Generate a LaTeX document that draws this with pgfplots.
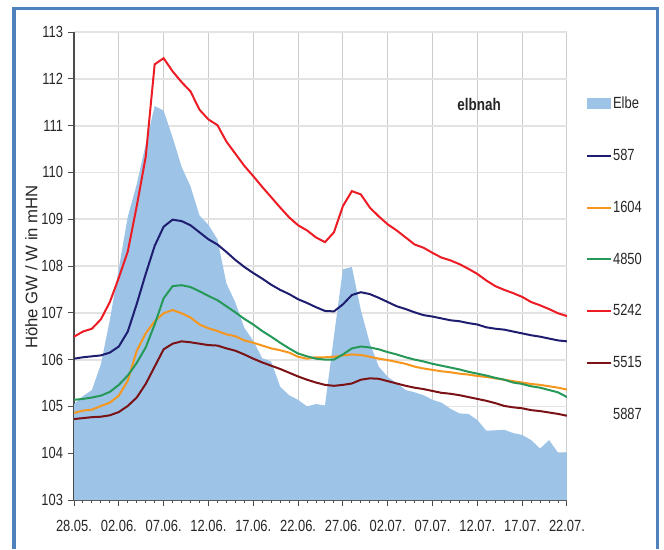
\documentclass[border=0pt]{standalone}
\usepackage{fontspec}
\setmainfont{Liberation Sans}[FakeStretch=0.8]
\newfontfamily\labelfont{Liberation Sans}
\usepackage{pgfplots}
\usepackage{pgfplotstable}
\pgfplotsset{compat=1.18}

\definecolor{elbe}{RGB}{157,195,231}
\definecolor{c587}{RGB}{31,29,112}
\definecolor{c1604}{RGB}{247,150,29}
\definecolor{c4850}{RGB}{38,152,88}
\definecolor{c5242}{RGB}{237,28,36}
\definecolor{c5515}{RGB}{122,18,22}
\definecolor{framecol}{RGB}{79,129,189}

% day 0 = 28.05.
\pgfplotstableread{
d  elbe   s587   s1604  s4850  s5242  s5515
0  105.05 106.02 104.86 105.14 106.49 104.73
1  105.22 106.05 104.91 105.16 106.60 104.75
2  105.35 106.07 104.93 105.19 106.66 104.77
3  105.90 106.09 105.01 105.23 106.86 104.78
4  106.85 106.15 105.08 105.31 107.23 104.81
5  107.95 106.28 105.23 105.46 107.75 104.88
6  109.05 106.60 105.55 105.66 108.31 105.01
7  109.75 107.19 106.19 105.93 109.28 105.19
8  110.60 107.83 106.56 106.26 110.33 105.48
9  111.42 108.43 106.82 106.75 112.31 105.85
10 111.32 108.84 106.99 107.31 112.44 106.22
11 110.75 108.99 107.06 107.57 112.16 106.34
12 110.12 108.96 106.99 107.59 111.93 106.39
13 109.70 108.87 106.90 107.55 111.73 106.37
14 109.08 108.72 106.75 107.46 111.34 106.34
15 108.88 108.57 106.67 107.36 111.13 106.31
16 108.57 108.46 106.61 107.27 111.01 106.30
17 107.63 108.30 106.54 107.14 110.66 106.24
18 107.22 108.13 106.50 107.01 110.40 106.19
19 106.68 107.98 106.41 106.87 110.14 106.11
20 106.40 107.85 106.36 106.75 109.92 106.02
21 106.03 107.73 106.30 106.61 109.69 105.94
22 105.96 107.60 106.24 106.49 109.47 105.87
23 105.42 107.49 106.20 106.36 109.25 105.80
24 105.24 107.40 106.15 106.24 109.04 105.72
25 105.14 107.29 106.06 106.13 108.87 105.64
26 105.00 107.21 106.02 106.07 108.76 105.57
27 105.05 107.12 106.05 106.02 108.61 105.51
28 105.02 107.04 106.05 106.00 108.51 105.46
29 106.50 107.03 106.06 106.00 108.72 105.44
30 107.93 107.18 106.09 106.11 109.28 105.46
31 107.98 107.38 106.11 106.24 109.60 105.49
32 107.06 107.44 106.10 106.28 109.53 105.57
33 106.35 107.40 106.06 106.26 109.25 105.60
34 105.85 107.32 106.02 106.22 109.06 105.59
35 105.63 107.23 105.99 106.16 108.89 105.54
36 105.50 107.14 105.95 106.11 108.76 105.49
37 105.35 107.08 105.91 106.05 108.61 105.44
38 105.30 107.01 105.85 106.00 108.46 105.40
39 105.24 106.95 105.81 105.96 108.39 105.37
40 105.14 106.92 105.78 105.91 108.28 105.33
41 105.08 106.88 105.75 105.87 108.18 105.29
42 104.95 106.84 105.73 105.83 108.12 105.27
43 104.85 106.82 105.70 105.79 108.04 105.24
44 104.84 106.78 105.68 105.74 107.94 105.20
45 104.71 106.75 105.65 105.70 107.83 105.16
46 104.48 106.69 105.63 105.66 107.69 105.12
47 104.49 106.66 105.60 105.61 107.57 105.07
48 104.50 106.64 105.57 105.57 107.49 105.01
49 104.43 106.60 105.54 105.51 107.42 104.98
50 104.39 106.56 105.51 105.48 107.34 104.96
51 104.28 106.52 105.48 105.43 107.23 104.92
52 104.10 106.49 105.46 105.40 107.16 104.90
53 104.28 106.45 105.43 105.35 107.08 104.87
54 104.01 106.41 105.40 105.30 106.99 104.84
55 104.02 106.39 105.36 105.20 106.93 104.80
}\data

\begin{document}
\begin{tikzpicture}
\path[use as bounding box] (0,0) rectangle (166mm,137.25mm);
\draw[framecol, line width=0.9mm, line join=miter] (3.5mm,0) -- (3.5mm,135.1mm) -- (164.4mm,135.1mm) -- (164.4mm,0);
\begin{axis}[
  at={(18.5mm,12.25mm)}, anchor=south west,
  scale only axis, width=123.25mm, height=117mm,
  xmin=0, xmax=55, ymin=103, ymax=113,
  axis x line*=bottom, axis y line*=left,
  axis line style={draw=black!70, line width=0.3mm},
  tick style={draw=black!70, line width=0.25mm},
  tick align=outside,
  major tick length=1.5mm, minor tick length=0.8mm,
  xtick={0,5,...,55}, minor x tick num=4,
  ytick={103,104,...,113}, minor y tick num=0,
  xticklabels={28.05.,02.06.,07.06.,12.06.,17.06.,22.06.,27.06.,02.07.,07.07.,12.07.,17.07.,22.07.},
  /pgf/number format/assume math mode=true,
  ticklabel style={font=\fontsize{11.5}{13}\selectfont, text=black!85},
  xticklabel style={yshift=-2.3mm},
  grid=major,
  x grid style={draw=black!20, line width=0.25mm},
  y grid style={draw=black!11, line width=0.45mm},
  ylabel={\labelfont\fontsize{11.9}{14}\selectfont Höhe GW / W in mHN},
  ylabel style={at={(axis description cs:-0.0862,0.498)}, anchor=center, text=black!85},
  legend style={at={(1.0385,0.868)}, anchor=north west, draw=none, fill=none,
    inner sep=0pt, row sep=8.2mm, column sep=-0.5mm,
    font=\fontsize{11.5}{13}\selectfont, text=black!85},
  legend cell align=left,
  legend image code/.code={\draw[#1, line width=0.5mm] (0mm,0mm) -- (6mm,0mm);},
]
\addplot[fill=elbe, draw=none,
  legend image code/.code={\fill[elbe] (0mm,-1.375mm) rectangle (6mm,1.375mm);}]
  table[x=d, y=elbe]{\data} \closedcycle;
\addlegendentry{Elbe}
\addplot[c587, line width=0.5mm] table[x=d, y=s587]{\data};
\addlegendentry{587}
\addplot[c1604, line width=0.5mm] table[x=d, y=s1604]{\data};
\addlegendentry{1604}
\addplot[c4850, line width=0.5mm] table[x=d, y=s4850]{\data};
\addlegendentry{4850}
\addplot[c5242, line width=0.5mm] table[x=d, y=s5242]{\data};
\addlegendentry{5242}
\addplot[c5515, line width=0.5mm] table[x=d, y=s5515]{\data};
\addlegendentry{5515}
\addlegendimage{white}
\addlegendentry{5887}
\node[font=\bfseries\fontsize{12}{14}\selectfont, anchor=base, text=black!85] at (axis cs:45.2,111.32) {elbnah};
\end{axis}
\end{tikzpicture}
\end{document}
